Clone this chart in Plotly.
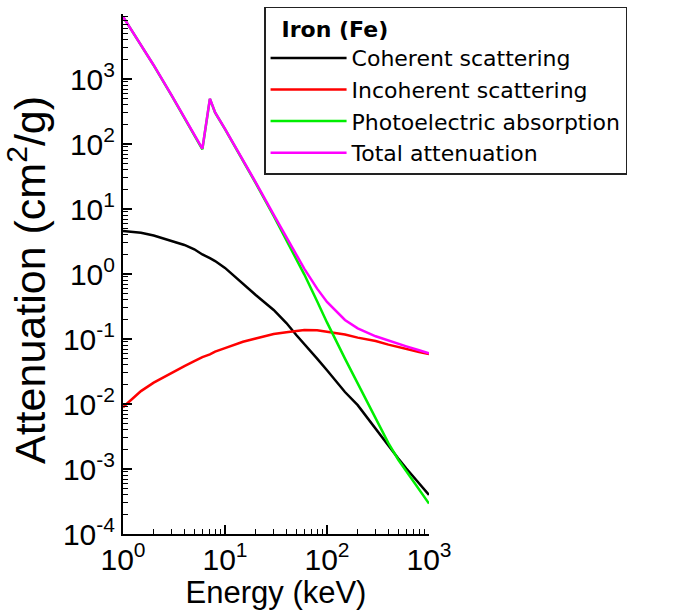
import plotly.graph_objects as go

# Photon energy grid (keV)
energy_kev = [1, 1.5, 2, 3, 4, 5, 6, 7.112, 8, 10, 15, 20, 30, 40, 50, 60,
              80, 100, 150, 200, 300, 400, 500, 600, 800, 1000]

# Mass attenuation coefficients for iron (cm^2/g)
coherent = [4.6, 4.3, 3.9, 3.2, 2.8, 2.4, 2.0, 1.75, 1.58, 1.24, 0.70, 0.475,
            0.28, 0.176, 0.115, 0.084, 0.050, 0.033, 0.0153, 0.0096, 0.0041,
            0.00226, 0.00145, 0.00102, 0.00059, 0.00040]
incoherent = [0.0089, 0.0158, 0.0213, 0.0303, 0.0383, 0.0455, 0.0527, 0.058,
              0.064, 0.0724, 0.0906, 0.102, 0.119, 0.127, 0.133, 0.137, 0.136,
              0.130, 0.117, 0.105, 0.093, 0.082, 0.075, 0.070, 0.063, 0.0587]
photoelectric = [9090, 3390, 1620, 555, 254, 137, 82.5, 495, 303, 169, 56, 25,
                 7.8, 3.3, 1.7, 0.98, 0.38, 0.18, 0.05, 0.0207, 0.0060, 0.0025,
                 0.00139, 0.00092, 0.000475, 0.000294]
total = [9100, 3400, 1630, 560, 257, 140, 85, 500, 305, 171, 57, 25.7, 8.2,
         3.63, 1.96, 1.2, 0.595, 0.372, 0.196, 0.146, 0.110, 0.094, 0.0841,
         0.077, 0.067, 0.060]

series_names = ["Coherent scattering", "Incoherent scattering",
                "Photoelectric absorption", "Total attenuation"]
series_values = [coherent, incoherent, photoelectric, total]
series_colors = ["#000000", "#ff0000", "#00ee00", "#ff00ff"]

x_tick_exps = [0, 1, 2, 3]
y_tick_exps = [-4, -3, -2, -1, 0, 1, 2, 3, 4]
y_labelled_max = 3

FONT = "Liberation Sans, Arial, sans-serif"
LEGEND_FONT = "DejaVu Sans, Liberation Sans, sans-serif"

fig = go.Figure()
for name, vals, col in zip(series_names, series_values, series_colors):
    fig.add_trace(go.Scatter(x=energy_kev, y=vals, mode="lines", name=name,
                             line=dict(color=col, width=2.5)))


def minor_vals(exps):
    out = []
    for e in exps[:-1]:
        for m in range(2, 10):
            out.append(m * 10 ** e)
    return out


x_major = [10 ** e for e in x_tick_exps]
x_text = ["10<sup>%d</sup>" % e for e in x_tick_exps]
y_major = [10.0 ** e for e in y_tick_exps]
y_text = [("10<sup>%d</sup>" % e) if e <= y_labelled_max else "" for e in y_tick_exps]

fig.update_layout(
    width=679, height=610,
    margin=dict(l=123, r=250, t=14, b=76, autoexpand=False),
    paper_bgcolor="white", plot_bgcolor="white",
    font=dict(family=FONT, color="black"),
    showlegend=True,
    legend=dict(
        x=0.461, y=1.0135, xanchor="left", yanchor="top",
        bgcolor="white", bordercolor="#222222", borderwidth=1.5,
        font=dict(size=22, family=LEGEND_FONT, color="black"),
        title=dict(text="&nbsp;&nbsp;<b>Iron (Fe)</b>",
                   font=dict(size=22, family=LEGEND_FONT)),
        itemwidth=76, tracegroupgap=0,
    ),
    xaxis=dict(
        type="log", range=[0, 3], automargin=False,
        showline=True, linecolor="black", linewidth=2,
        ticks="inside", ticklen=9, tickwidth=1.5, tickcolor="black",
        tickmode="array", tickvals=x_major, ticktext=x_text,
        tickfont=dict(size=30, family=FONT), ticklabelstandoff=-2,
        minor=dict(tickmode="array", tickvals=minor_vals(x_tick_exps),
                   ticks="inside", ticklen=5, tickwidth=1.2, tickcolor="black"),
        showgrid=False, zeroline=False, mirror=False,
        title=dict(text="Energy (keV)", font=dict(size=31, family=FONT)),
    ),
    yaxis=dict(
        type="log", range=[-4, 4], automargin=False,
        showline=True, linecolor="black", linewidth=2,
        ticks="inside", ticklen=9, tickwidth=1.5, tickcolor="black",
        tickmode="array", tickvals=y_major, ticktext=y_text,
        tickfont=dict(size=30, family=FONT),
        minor=dict(tickmode="array", tickvals=minor_vals(y_tick_exps),
                   ticks="inside", ticklen=5, tickwidth=1.2, tickcolor="black"),
        showgrid=False, zeroline=False, mirror=False,
        title=dict(text="Attenuation (cm<sup>2</sup>/g)&nbsp;",
                   font=dict(size=43, family=FONT)),
    ),
)

fig.write_html(
    "out.html",
    config={"displayModeBar": False},
    post_script="document.body.style.margin='0';document.body.style.padding='0';",
)
